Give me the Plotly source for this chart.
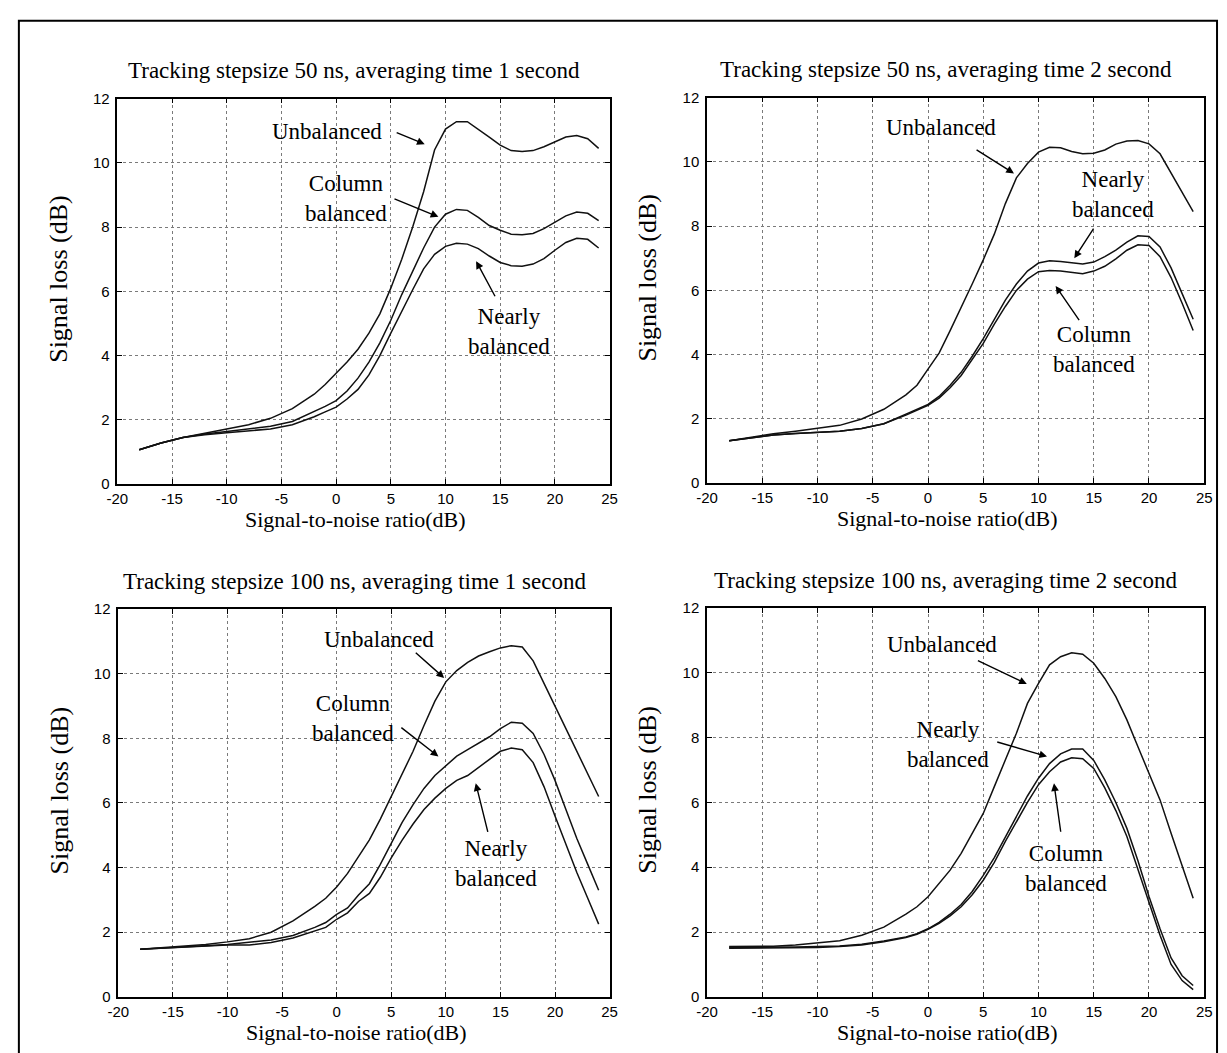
import plotly.graph_objects as go

# Signal-to-noise ratio grid (dB)
snr = [-18, -16, -14, -12, -10, -8, -6, -4, -2, -1, 0, 1, 2, 3, 4, 5, 6, 7, 8, 9,
       10, 11, 12, 13, 14, 15, 16, 17, 18, 19, 20, 21, 22, 23, 24]

# Tracking stepsize 50 ns, averaging time 1 second
p1_unbalanced = [1.07, 1.28, 1.45, 1.58, 1.70, 1.85, 2.05, 2.35, 2.80, 3.10, 3.45, 3.80, 4.20, 4.70, 5.30,
                 6.10, 7.00, 8.00, 9.10, 10.40, 11.05, 11.28, 11.28, 11.05, 10.80, 10.55, 10.38, 10.35,
                 10.38, 10.50, 10.65, 10.80, 10.85, 10.75, 10.45]
p1_column = [1.07, 1.28, 1.45, 1.56, 1.64, 1.72, 1.80, 1.95, 2.25, 2.42, 2.60, 2.90, 3.30, 3.80, 4.40,
             5.10, 5.90, 6.65, 7.35, 8.00, 8.40, 8.55, 8.52, 8.30, 8.05, 7.90, 7.78, 7.76, 7.80, 7.95,
             8.15, 8.35, 8.47, 8.43, 8.20]
p1_nearly = [1.07, 1.28, 1.45, 1.54, 1.60, 1.66, 1.72, 1.85, 2.10, 2.25, 2.40, 2.65, 2.95, 3.40, 4.00,
             4.70, 5.40, 6.05, 6.70, 7.15, 7.40, 7.50, 7.47, 7.33, 7.10, 6.90, 6.80, 6.78, 6.85, 7.02,
             7.28, 7.52, 7.65, 7.62, 7.35]

# Tracking stepsize 50 ns, averaging time 2 second
p2_unbalanced = [1.32, 1.44, 1.54, 1.62, 1.70, 1.80, 2.00, 2.30, 2.75, 3.05, 3.55, 4.05, 4.75, 5.45, 6.20,
                 6.95, 7.75, 8.70, 9.50, 9.95, 10.30, 10.45, 10.44, 10.32, 10.25, 10.27, 10.37, 10.55,
                 10.65, 10.66, 10.56, 10.25, 9.65, 9.05, 8.45]
p2_nearly = [1.32, 1.42, 1.50, 1.55, 1.58, 1.62, 1.70, 1.85, 2.15, 2.30, 2.45, 2.70, 3.05, 3.45, 3.95,
             4.50, 5.10, 5.70, 6.20, 6.60, 6.85, 6.92, 6.90, 6.85, 6.82, 6.88, 7.05, 7.25, 7.50, 7.70,
             7.68, 7.35, 6.70, 5.90, 5.10]
p2_column = [1.32, 1.42, 1.50, 1.55, 1.58, 1.62, 1.70, 1.85, 2.12, 2.27, 2.42, 2.65, 2.97, 3.35, 3.85,
             4.35, 4.95, 5.50, 6.00, 6.35, 6.58, 6.62, 6.60, 6.55, 6.52, 6.60, 6.75, 6.98, 7.25, 7.42,
             7.40, 7.05, 6.40, 5.60, 4.75]

# Tracking stepsize 100 ns, averaging time 1 second
p3_unbalanced = [1.47, 1.52, 1.57, 1.62, 1.70, 1.80, 2.00, 2.35, 2.80, 3.05, 3.40, 3.82, 4.34, 4.86, 5.50,
                 6.20, 6.90, 7.60, 8.40, 9.15, 9.75, 10.10, 10.35, 10.55, 10.68, 10.80, 10.87, 10.83,
                 10.40, 9.72, 9.00, 8.30, 7.60, 6.90, 6.20]
p3_column = [1.47, 1.50, 1.55, 1.58, 1.62, 1.68, 1.76, 1.90, 2.15, 2.30, 2.55, 2.75, 3.15, 3.50, 4.10,
             4.75, 5.40, 5.95, 6.45, 6.85, 7.15, 7.45, 7.65, 7.85, 8.05, 8.30, 8.50, 8.47, 8.15, 7.50,
             6.70, 5.80, 4.90, 4.10, 3.30]
p3_nearly = [1.47, 1.50, 1.54, 1.57, 1.60, 1.60, 1.68, 1.82, 2.05, 2.15, 2.40, 2.60, 2.95, 3.20, 3.70,
             4.30, 4.85, 5.35, 5.80, 6.15, 6.45, 6.70, 6.85, 7.10, 7.35, 7.60, 7.70, 7.65, 7.25, 6.50,
             5.60, 4.70, 3.85, 3.05, 2.25]

# Tracking stepsize 100 ns, averaging time 2 second
p4_unbalanced = [1.55, 1.55, 1.56, 1.60, 1.67, 1.73, 1.90, 2.15, 2.55, 2.78, 3.09, 3.50, 3.91, 4.43, 5.05,
                 5.66, 6.49, 7.31, 8.14, 9.06, 9.68, 10.25, 10.50, 10.62, 10.58, 10.30, 9.83, 9.27,
                 8.55, 7.72, 6.90, 6.08, 5.05, 4.02, 3.04]
p4_nearly = [1.52, 1.52, 1.53, 1.54, 1.55, 1.57, 1.62, 1.72, 1.85, 1.95, 2.10, 2.30, 2.55, 2.85, 3.25,
             3.75, 4.30, 4.95, 5.60, 6.20, 6.75, 7.20, 7.50, 7.65, 7.65, 7.30, 6.70, 6.00, 5.20, 4.20,
             3.10, 2.10, 1.20, 0.65, 0.35]
p4_column = [1.50, 1.50, 1.50, 1.50, 1.52, 1.55, 1.60, 1.70, 1.83, 1.93, 2.08, 2.27, 2.50, 2.78, 3.15,
             3.60, 4.15, 4.80, 5.40, 6.00, 6.55, 6.95, 7.25, 7.38, 7.35, 7.05, 6.45, 5.75, 4.95, 3.95,
             2.90, 1.90, 1.00, 0.50, 0.22]

panel_titles = [
    "Tracking stepsize 50 ns, averaging time 1 second",
    "Tracking stepsize 50 ns, averaging time 2 second",
    "Tracking stepsize 100 ns, averaging time 1 second",
    "Tracking stepsize 100 ns, averaging time 2 second",
]
x_title = "Signal-to-noise ratio(dB)"
y_title = "Signal loss (dB)"

x_tick_vals = [-20, -15, -10, -5, 0, 5, 10, 15, 20, 25]
x_tick_text = ["-20", "-15", "-10", "-5", "0", "5", "10", "15", "20", "25"]
y_tick_vals = [0, 2, 4, 6, 8, 10, 12]
y_tick_text = ["0", "2", "4", "6", "8", "10", "12"]

# Curve labels: (text, text x, text y, arrow tail x, tail y, arrow head x, head y)
panel_labels = [
    [("Unbalanced", -0.85, 10.98, 5.4, 10.96, 8.1, 10.58),
     ("Column<br>balanced", 0.9, 8.9, 5.2, 8.9, 9.35, 8.32),
     ("Nearly<br>balanced", 15.8, 4.74, 14.6, 5.8, 12.8, 6.94)],
    [("Unbalanced", 1.2, 11.07, 4.26, 10.4, 7.78, 9.64),
     ("Nearly<br>balanced", 16.76, 8.98, 15.07, 7.97, 13.24, 7.0),
     ("Column<br>balanced", 15.0, 4.16, 13.77, 5.03, 11.55, 6.14)],
    [("Unbalanced", 3.9, 11.05, 7.11, 10.69, 9.85, 9.87),
     ("Column<br>balanced", 1.5, 8.63, 5.79, 8.37, 9.32, 7.44),
     ("Nearly<br>balanced", 14.6, 4.13, 13.88, 5.06, 12.74, 6.61)],
    [("Unbalanced", 1.22, 10.87, 4.38, 10.4, 8.94, 9.66),
     ("Nearly<br>balanced", 1.85, 7.78, 6.13, 7.88, 10.77, 7.42),
     ("Column<br>balanced", 12.53, 3.96, 12.03, 5.05, 11.4, 6.59)],
]

series = [
    [p1_unbalanced, p1_column, p1_nearly],
    [p2_unbalanced, p2_nearly, p2_column],
    [p3_unbalanced, p3_column, p3_nearly],
    [p4_unbalanced, p4_nearly, p4_column],
]

W, H = 1227, 1053
SERIF = "Liberation Serif, Times New Roman, serif"
SANS = "Liberation Sans, Arial, sans-serif"

# Plot boxes in pixels: (left, right, top, bottom)
boxes = [(108, 608, 91, 483), (707, 1212, 90, 482), (109, 608, 610, 1004), (707, 1212, 609, 1004)]

def px_x(v):
    return v / W

def px_y(v):
    return 1 - v / H

fig = go.Figure()
layout = dict(
    width=W, height=H, margin=dict(l=0, r=0, t=0, b=0),
    paper_bgcolor="white", plot_bgcolor="white", showlegend=False,
    font=dict(family=SERIF, color="black"),
)
annotations = []
shapes = []

for i, (box, curves) in enumerate(zip(boxes, series)):
    n = "" if i == 0 else str(i + 1)
    xa, ya = "x" + n, "y" + n
    left, right, top, bottom = box
    axis_common = dict(
        ticks="inside", ticklen=5, tickwidth=1, tickcolor="black",
        showline=True, linecolor="black", linewidth=1.5, mirror="allticks",
        showgrid=True, gridcolor="#7a7a7a", gridwidth=1, griddash="dot",
        zeroline=False, tickfont=dict(family=SANS, size=15, color="black"),
        fixedrange=True,
    )
    layout["xaxis" + n] = dict(
        axis_common, domain=[px_x(left), px_x(right)], range=[-20, 25],
        tickmode="array", tickvals=x_tick_vals, ticktext=x_tick_text, anchor=ya,
    )
    layout["yaxis" + n] = dict(
        axis_common, domain=[px_y(bottom), px_y(top)], range=[0, 12],
        tickmode="array", tickvals=y_tick_vals, ticktext=y_tick_text, anchor=xa,
        ticklabelstandoff=3,
    )
    for ys in curves:
        fig.add_trace(go.Scatter(
            x=snr, y=ys, mode="lines", xaxis=xa, yaxis=ya,
            line=dict(color="#111111", width=1.5), hoverinfo="skip",
        ))

    # panel title
    annotations.append(dict(
        text=panel_titles[i], xref="paper", yref="paper",
        x=px_x((left + right) / 2 - 10), y=px_y(top - 28),
        xanchor="center", yanchor="middle", showarrow=False,
        font=dict(family=SERIF, size=23, color="black"),
    ))
    # axis titles
    annotations.append(dict(
        text=x_title, xref="paper", yref="paper",
        x=px_x((left + right) / 2 - 8), y=px_y(bottom + 36),
        xanchor="center", yanchor="middle", showarrow=False,
        font=dict(family=SERIF, size=22, color="black"),
    ))
    annotations.append(dict(
        text=y_title, xref="paper", yref="paper",
        x=px_x(left - 60), y=px_y((top + bottom) / 2 - 13),
        xanchor="center", yanchor="middle", showarrow=False, textangle=-90,
        font=dict(family=SERIF, size=26, color="black"),
    ))

    for (txt, tx, ty, ax0, ay0, hx, hy) in panel_labels[i]:
        annotations.append(dict(
            text=txt, xref=xa, yref=ya, x=tx, y=ty,
            xanchor="center", yanchor="middle", showarrow=False,
            font=dict(family=SERIF, size=23, color="black"),
        ))
        annotations.append(dict(
            text="", xref=xa, yref=ya, x=hx, y=hy,
            axref=xa, ayref=ya, ax=ax0, ay=ay0,
            showarrow=True, arrowhead=2, arrowsize=1.1, arrowwidth=1.4,
            arrowcolor="black", standoff=0, startstandoff=0,
        ))

# outer frame around the figure
shapes.append(dict(
    type="rect", xref="paper", yref="paper",
    x0=px_x(8), x1=px_x(1225), y0=-0.05, y1=px_y(12),
    line=dict(color="black", width=2), fillcolor="rgba(0,0,0,0)",
))

layout["annotations"] = annotations
layout["shapes"] = shapes
fig.update_layout(**layout)
fig.write_html("out.html", post_script="document.body.style.margin='0';")
